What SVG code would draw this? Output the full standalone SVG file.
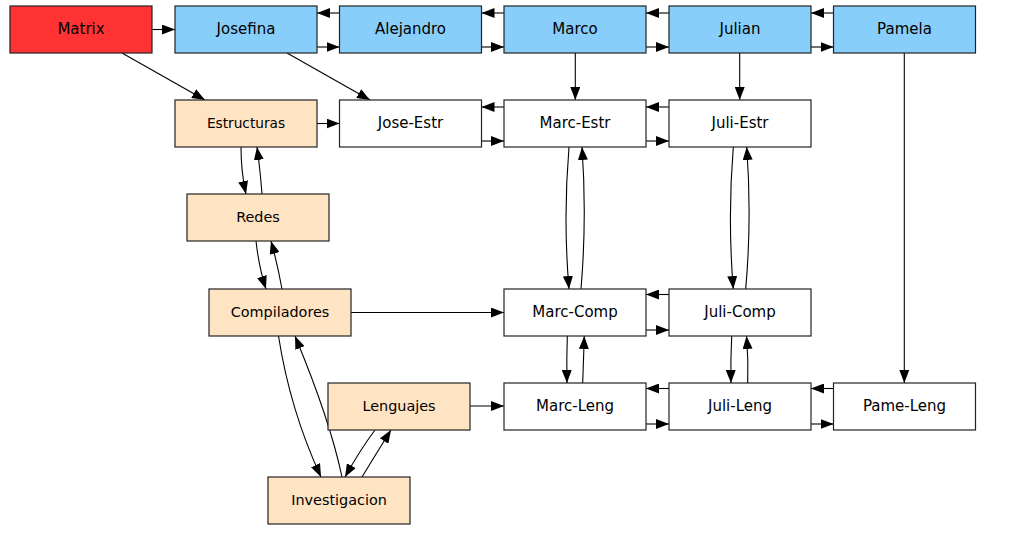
<svg xmlns="http://www.w3.org/2000/svg" width="1009" height="533" viewBox="0 0 1009 533">
<style>
.n rect{stroke:#222;stroke-width:1.2}
.w rect{fill:#fff}
.b rect{fill:#87cefa}
.p rect{fill:#ffe4c4}
.r rect{fill:#ff3333}
text{font-family:"DejaVu Sans",sans-serif;font-size:15px;fill:#000;text-anchor:middle}
.p text{font-size:14.4px}
#connectors path{fill:none;stroke:#000;stroke-width:1.1;marker-end:url(#ah)}
</style>
<defs>
<marker id="ah" markerUnits="userSpaceOnUse" markerWidth="14" markerHeight="10" refX="13" refY="5" orient="auto">
<path d="M0,0 L13,5 L0,10 z" fill="#000"/>
</marker>
</defs>
<rect width="1009" height="533" fill="#fff"/>
<g id="connectors">
<path d="M152,29.5 L175,29.5"/>
<path d="M339.5,13 L317,13"/><path d="M317,47 L339.5,47"/>
<path d="M504,13 L481.5,13"/><path d="M481.5,47 L504,47"/>
<path d="M669,13 L646,13"/><path d="M646,47 L669,47"/>
<path d="M833.5,13 L811,13"/><path d="M811,47 L833.5,47"/>
<path d="M122,53 L205,100"/>
<path d="M287,53 L370,100"/>
<path d="M317,123.5 L339.5,123.5"/>
<path d="M504,107 L481.5,107"/><path d="M481.5,141 L504,141"/>
<path d="M669,107 L646,107"/><path d="M646,141 L669,141"/>
<path d="M575.3,53 L575.3,100"/>
<path d="M739.7,53 L739.7,100"/>
<path d="M904.3,53 L904.3,383"/>
<path d="M241,147 Q241,172 246,194"/>
<path d="M262,194 Q260,168 257,147"/>
<path d="M256,241 Q259,268 266,289"/>
<path d="M282,289 Q277,262 271,241"/>
<path d="M350,312.5 L504,312.5"/>
<path d="M278.5,336 Q290,410 321,477"/>
<path d="M342,477 Q330,420 295,336"/>
<path d="M375,430 Q360,450 345,477"/>
<path d="M362,477 Q376,454 391,430"/>
<path d="M469,406 L504,406"/>
<path d="M569,147 Q563,218 569,289"/>
<path d="M581,289 Q587,218 582,147"/>
<path d="M733.3,147 Q727.5,218 733.3,289"/>
<path d="M745.7,289 Q752,218 746.7,147"/>
<path d="M669,294.5 L646,294.5"/><path d="M646,330 L669,330"/>
<path d="M567.3,336 Q566.5,360 567,383"/>
<path d="M582.7,383 Q583.5,360 584.3,336"/>
<path d="M731.7,336 Q730.5,360 731,383"/>
<path d="M747.7,383 Q748.5,360 746.5,336"/>
<path d="M669,388.5 L646,388.5"/><path d="M646,424 L669,424"/>
<path d="M833.5,388.5 L811,388.5"/><path d="M811,424 L833.5,424"/>
</g>
<g id="Matrix" class="n r"><rect x="10" y="6" width="142" height="47"/><text x="81" y="34">Matrix</text></g>
<g id="Josefina" class="n b"><rect x="175" y="6" width="142" height="47"/><text x="246" y="34">Josefina</text></g>
<g id="Alejandro" class="n b"><rect x="339.5" y="6" width="142" height="47"/><text x="410.5" y="34">Alejandro</text></g>
<g id="Marco" class="n b"><rect x="504" y="6" width="142" height="47"/><text x="575" y="34">Marco</text></g>
<g id="Julian" class="n b"><rect x="669" y="6" width="142" height="47"/><text x="740" y="34">Julian</text></g>
<g id="Pamela" class="n b"><rect x="833.5" y="6" width="142" height="47"/><text x="904.5" y="34">Pamela</text></g>
<g id="Estructuras" class="n p"><rect x="175" y="100" width="142" height="47"/><text x="246" y="128" style="font-size:13.7px">Estructuras</text></g>
<g id="Jose-Estr" class="n w"><rect x="339.5" y="100" width="142" height="47"/><text x="410.5" y="128">Jose-Estr</text></g>
<g id="Marc-Estr" class="n w"><rect x="504" y="100" width="142" height="47"/><text x="575" y="128">Marc-Estr</text></g>
<g id="Juli-Estr" class="n w"><rect x="669" y="100" width="142" height="47"/><text x="740" y="128">Juli-Estr</text></g>
<g id="Redes" class="n p"><rect x="187" y="194" width="142" height="47"/><text x="258" y="222">Redes</text></g>
<g id="Compiladores" class="n p"><rect x="209" y="289" width="142" height="47"/><text x="280" y="317">Compiladores</text></g>
<g id="Marc-Comp" class="n w"><rect x="504" y="289" width="142" height="47"/><text x="575" y="317">Marc-Comp</text></g>
<g id="Juli-Comp" class="n w"><rect x="669" y="289" width="142" height="47"/><text x="740" y="317">Juli-Comp</text></g>
<g id="Lenguajes" class="n p"><rect x="328" y="383" width="142" height="47"/><text x="399" y="411">Lenguajes</text></g>
<g id="Marc-Leng" class="n w"><rect x="504" y="383" width="142" height="47"/><text x="575" y="411">Marc-Leng</text></g>
<g id="Juli-Leng" class="n w"><rect x="669" y="383" width="142" height="47"/><text x="740" y="411">Juli-Leng</text></g>
<g id="Pame-Leng" class="n w"><rect x="833.5" y="383" width="142" height="47"/><text x="904.5" y="411">Pame-Leng</text></g>
<g id="Investigacion" class="n p"><rect x="268" y="477" width="142" height="47"/><text x="339" y="505">Investigacion</text></g>
</svg>
